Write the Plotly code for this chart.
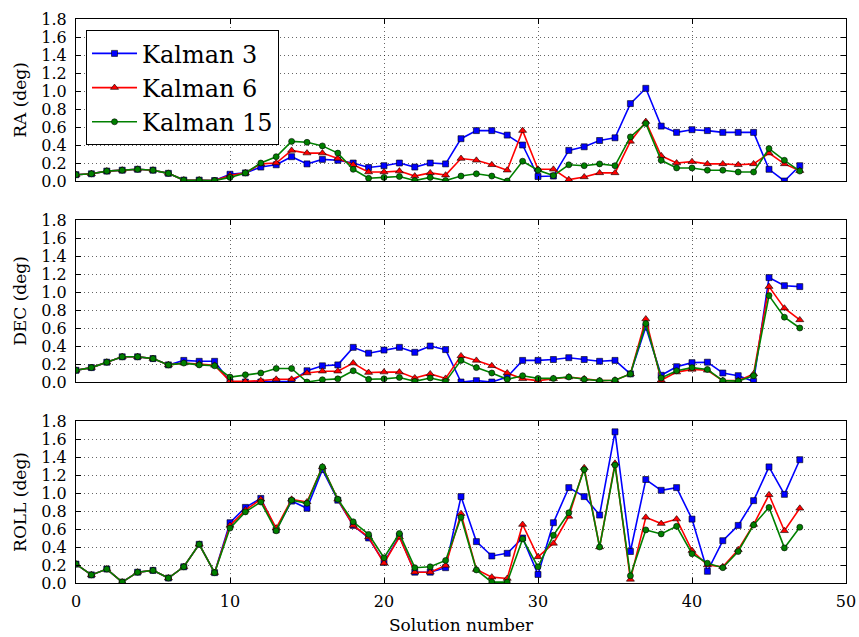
import plotly.graph_objects as go

x = list(range(48))

ra_k3 = [0.07,0.08,0.11,0.12,0.13,0.12,0.085,0.01,0.01,0.005,0.075,0.09,0.155,0.18,0.27,0.19,0.24,0.23,0.20,0.15,0.17,0.20,0.155,0.20,0.19,
         0.47,0.56,0.56,0.51,0.40,0.05,0.055,0.34,0.38,0.45,0.48,0.86,1.03,0.61,0.54,0.57,0.56,0.54,0.54,0.54,0.13,0.0,0.17]
ra_k6 = [0.07,0.08,0.11,0.12,0.13,0.12,0.085,0.01,0.01,0.005,0.06,0.09,0.19,0.20,0.34,0.31,0.31,0.25,0.18,0.10,0.10,0.11,0.055,0.09,0.065,
         0.25,0.23,0.18,0.12,0.56,0.13,0.13,0.015,0.045,0.09,0.09,0.44,0.66,0.28,0.20,0.215,0.19,0.19,0.18,0.19,0.31,0.19,0.115]
ra_k15 = [0.07,0.08,0.11,0.12,0.13,0.12,0.085,0.01,0.01,0.005,0.04,0.09,0.20,0.27,0.44,0.43,0.39,0.31,0.13,0.03,0.04,0.05,0.005,0.04,0.005,
          0.055,0.08,0.055,0.0,0.22,0.12,0.06,0.18,0.17,0.19,0.17,0.49,0.64,0.23,0.145,0.145,0.12,0.12,0.10,0.10,0.36,0.23,0.11]

dec_k3 = [0.13,0.16,0.22,0.28,0.28,0.26,0.19,0.24,0.23,0.23,0.0,0.0,0.0,0.007,0.007,0.125,0.18,0.19,0.385,0.32,0.355,0.385,0.33,0.40,0.36,
          0.0,0.015,0.0,0.055,0.24,0.24,0.25,0.27,0.25,0.23,0.24,0.09,0.61,0.075,0.17,0.215,0.22,0.10,0.07,0.007,1.16,1.07,1.06]
dec_k6 = [0.13,0.16,0.22,0.28,0.28,0.26,0.19,0.21,0.20,0.185,0.01,0.007,0.015,0.03,0.03,0.10,0.12,0.12,0.21,0.105,0.11,0.11,0.045,0.09,0.04,
          0.29,0.24,0.18,0.10,0.035,0.015,0.035,0.055,0.035,0.015,0.02,0.09,0.70,0.02,0.11,0.14,0.13,0.015,0.015,0.09,1.06,0.82,0.69]
dec_k15 = [0.13,0.16,0.22,0.28,0.28,0.26,0.19,0.21,0.19,0.18,0.055,0.08,0.10,0.15,0.15,0.0,0.025,0.035,0.125,0.03,0.035,0.05,0.007,0.045,0.007,
           0.24,0.16,0.10,0.03,0.07,0.04,0.04,0.055,0.03,0.015,0.02,0.09,0.65,0.045,0.125,0.16,0.14,0.015,0.01,0.07,0.96,0.72,0.60]

roll_k3 = [0.21,0.09,0.155,0.01,0.12,0.14,0.055,0.18,0.43,0.115,0.67,0.84,0.94,0.59,0.91,0.83,1.26,0.92,0.64,0.50,0.23,0.52,0.12,0.12,0.17,
           0.96,0.46,0.30,0.33,0.50,0.095,0.67,1.06,0.96,0.755,1.68,0.35,1.15,1.03,1.06,0.71,0.13,0.47,0.64,0.915,1.29,0.985,1.37]
roll_k6 = [0.21,0.09,0.155,0.01,0.12,0.14,0.055,0.18,0.43,0.115,0.64,0.81,0.93,0.61,0.93,0.90,1.29,0.93,0.64,0.51,0.22,0.51,0.12,0.12,0.195,
           0.77,0.15,0.065,0.05,0.65,0.29,0.44,0.74,1.28,0.40,1.33,0.04,0.73,0.66,0.71,0.36,0.20,0.18,0.37,0.65,0.98,0.58,0.83]
roll_k15 = [0.21,0.09,0.155,0.01,0.12,0.14,0.055,0.18,0.43,0.115,0.61,0.79,0.90,0.58,0.92,0.885,1.29,0.93,0.68,0.54,0.28,0.55,0.17,0.18,0.25,
            0.73,0.145,0.01,0.01,0.49,0.18,0.53,0.78,1.26,0.40,1.31,0.08,0.59,0.545,0.63,0.325,0.22,0.17,0.35,0.645,0.84,0.39,0.62]

series_names = ["Kalman 3", "Kalman 6", "Kalman 15"]
colors = ["#0000ff", "#ff0000", "#008000"]
symbols = ["square", "triangle-up", "circle"]
panels = [("RA (deg)", [ra_k3, ra_k6, ra_k15]),
          ("DEC (deg)", [dec_k3, dec_k6, dec_k15]),
          ("ROLL (deg)", [roll_k3, roll_k6, roll_k15])]
y_ticks = [0.0, 0.2, 0.4, 0.6, 0.8, 1.0, 1.2, 1.4, 1.6, 1.8]
x_ticks = [0, 10, 20, 30, 40, 50]

domains = [[402/564, 1.0], [201/564, 363/564], [0.0, 162/564]]
FONT = "DejaVu Serif"
TS = 16

fig = go.Figure()
for p, (label, data) in enumerate(panels):
    ax = "" if p == 0 else str(p + 1)
    for i, vals in enumerate(data):
        fig.add_trace(go.Scatter(
            x=x, y=vals, mode="lines+markers", name=series_names[i],
            showlegend=(p == 0),
            line=dict(color=colors[i], width=1.6),
            marker=dict(symbol=symbols[i], size=6 if symbols[i] != "triangle-up" else 7,
                        color=colors[i], line=dict(color="black", width=0.6)),
            xaxis="x" + ax, yaxis="y" + ax))
    common = dict(showline=True, linecolor="black", linewidth=1.2, mirror="ticks",
                  ticks="inside", ticklen=5, tickcolor="black", showgrid=True,
                  gridcolor="rgba(0,0,0,0.6)", griddash="1px,3px", gridwidth=1,
                  zeroline=False, automargin=False,
                  tickfont=dict(family=FONT, size=TS, color="black"))
    fig.update_layout(**{
        "xaxis" + ax: dict(common, range=[0, 50], tickvals=x_ticks,
                           showticklabels=(p == 2), anchor="y" + ax,
                           ticklabelstandoff=4,
                           title=dict(text="Solution number" if p == 2 else "",
                                      font=dict(family=FONT, size=17, color="black"), standoff=8)),
        "yaxis" + ax: dict(common, range=[0, 1.8], tickvals=y_ticks,
                           ticktext=[f"{v:.1f}" for v in y_ticks],
                           domain=domains[p], anchor="x" + ax,
                           ticklabelstandoff=5,
                           title=dict(text=label, font=dict(family=FONT, size=17, color="black"),
                                      standoff=10)),
    })

fig.update_layout(
    width=859, height=637,
    margin=dict(l=76, r=13, t=19, b=54),
    paper_bgcolor="white", plot_bgcolor="white",
    font=dict(family=FONT, color="black"),
    legend=dict(x=0.013, y=0.98, xanchor="left", yanchor="top",
                bgcolor="white", bordercolor="black", borderwidth=1,
                font=dict(family=FONT, size=24, color="black"),
                itemwidth=45, tracegroupgap=2),
)

fig.write_html("out.html")
